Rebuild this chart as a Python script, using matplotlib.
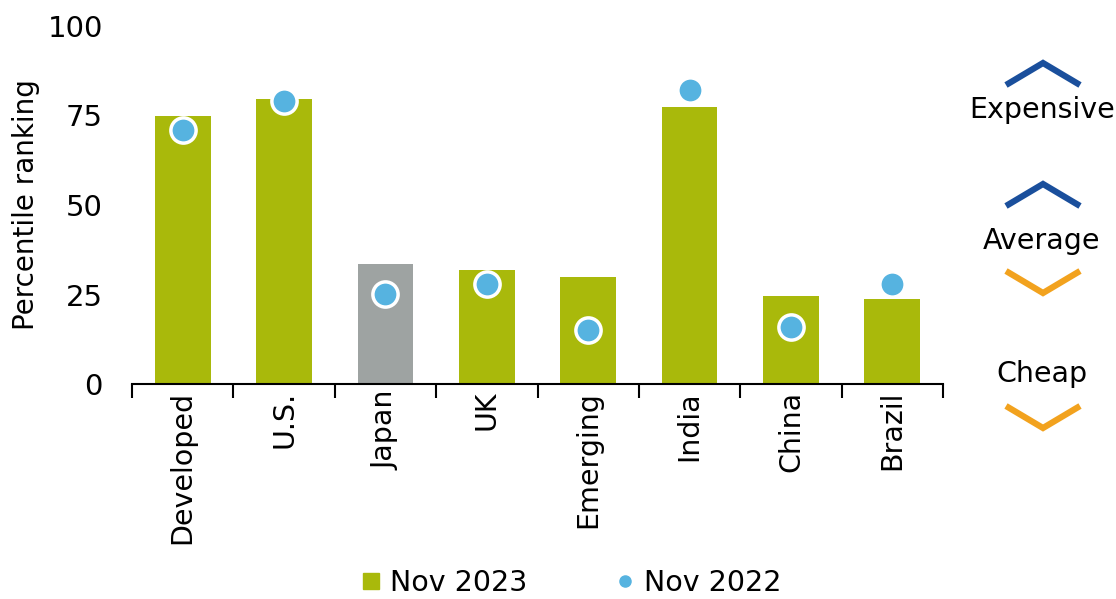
import matplotlib
matplotlib.use("Agg")
import matplotlib.pyplot as plt
from matplotlib.lines import Line2D

categories = ["Developed", "U.S.", "Japan", "UK", "Emerging", "India", "China", "Brazil"]
nov_2023 = [75, 79.5, 33.5, 31.8, 29.8, 77.5, 24.5, 23.8]
nov_2022 = [71, 79, 25.2, 28, 15.2, 82, 16, 28]
bar_colors = ["#A9B90B"] * 8
bar_colors[2] = "#9EA3A2"

GREEN = "#A9B90B"
BLUE = "#56B3E0"
NAVY = "#1A4F9C"
ORANGE = "#F2A21E"

plt.rcParams["font.family"] = ["DejaVu Sans"]

fig = plt.figure(figsize=(11.16, 5.99), dpi=100)
ax = fig.add_axes([132 / 1116, 1 - 384 / 599, (943 - 132) / 1116, (384 - 26) / 599])

x = range(len(categories))
ax.bar(x, nov_2023, width=0.55, color=bar_colors, zorder=2)
ax.scatter(x, nov_2022, s=330, color=BLUE, edgecolor="white", linewidth=2.5, zorder=3, clip_on=False)

ax.set_xlim(-0.5, len(categories) - 0.5)
ax.set_ylim(0, 100)
ax.set_yticks([0, 25, 50, 75, 100])
ax.tick_params(axis="y", length=0, labelsize=21, pad=21)
ax.set_xticks([i + 0.5 for i in range(-1, len(categories))], minor=False)
ax.set_xticklabels([])
ax.tick_params(axis="x", which="major", length=10, width=1.5, direction="out")
ax.set_xticks(list(x), minor=True)
ax.set_xticklabels(categories, minor=True, rotation=90, fontsize=20.5)
ax.tick_params(axis="x", which="minor", length=0, pad=5)
for s in ["top", "right", "left"]:
    ax.spines[s].set_visible(False)
ax.spines["bottom"].set_linewidth(1.5)
ax.set_ylabel("Percentile ranking", fontsize=20)
ax.yaxis.set_label_coords(-0.113, 0.5)

# legend
handles = [
    Line2D([], [], marker="s", linestyle="none", color=GREEN, markersize=12),
    Line2D([], [], marker="o", linestyle="none", color=BLUE, markersize=8),
]
fig.legend(handles, ["Nov 2023", "Nov 2022"], loc="center", bbox_to_anchor=(0.51, 0.027),
           ncol=2, frameon=False, fontsize=20.5, columnspacing=2.95, handletextpad=0.15, handlelength=1)

# valuation indicator on the right
def chevron(xc, yc, up, color):
    w, h = 37, 11
    sign = 1 if up else -1
    xs = [(xc - w) / 1116, xc / 1116, (xc + w) / 1116]
    ys = [1 - (yc + sign * h) / 599, 1 - (yc - sign * h) / 599, 1 - (yc + sign * h) / 599]
    fig.add_artist(Line2D(xs, ys, color=color, linewidth=4.5, solid_joinstyle="miter",
                          solid_capstyle="butt", transform=fig.transFigure))

chevron(1043, 74, True, NAVY)
fig.text(1042 / 1116, 1 - 110 / 599, "Expensive", ha="center", va="center", fontsize=20.5)
chevron(1043, 195, True, NAVY)
fig.text(1042 / 1116, 1 - 241 / 599, "Average", ha="center", va="center", fontsize=20.5)
chevron(1043, 282, False, ORANGE)
fig.text(1042 / 1116, 1 - 374 / 599, "Cheap", ha="center", va="center", fontsize=20.5)
chevron(1043, 417, False, ORANGE)

fig.savefig("out.png", dpi=100)
